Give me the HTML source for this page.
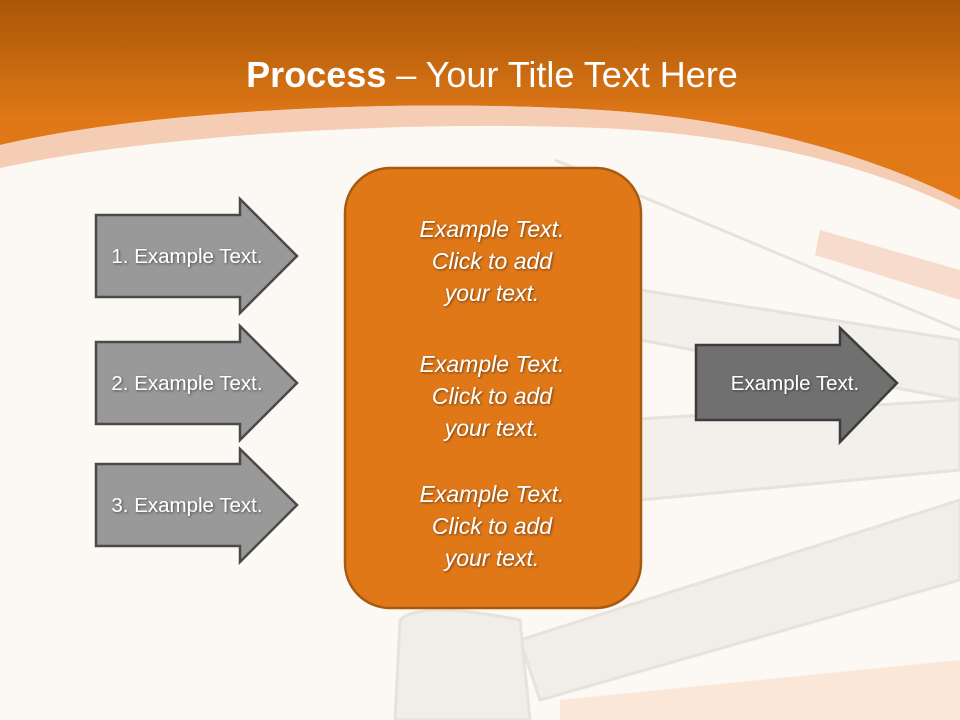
<!DOCTYPE html>
<html><head><style>
body{margin:0;width:960px;height:720px;overflow:hidden;background:#fcf8f4;font-family:"Liberation Sans",sans-serif}
svg{position:absolute;left:0;top:0}
</style></head><body>
<svg width="960" height="720" viewBox="0 0 960 720">
<defs>
<linearGradient id="g" x1="0" y1="0" x2="0" y2="1">
<stop offset="0" stop-color="#a85606"/><stop offset="0.6" stop-color="#e07818"/><stop offset="1" stop-color="#e47a18"/>
</linearGradient>
<filter id="s"><feDropShadow dx="1" dy="1" stdDeviation="1.2" flood-color="#000" flood-opacity="0.5"/></filter>
</defs>
<rect width="960" height="720" fill="#fcf8f4"/>
<g opacity="0.3" fill="none" stroke="#b8b0a8" stroke-width="3">
<path d="M555 160 L960 330"/>
<path d="M640 290 L960 340 L960 400 L640 340 Z" fill="#e0dcd8"/>
<path d="M620 420 L960 400 L960 470 L640 500 Z" fill="#e0dcd8"/>
<path d="M520 640 L960 500 L960 580 L540 700 Z" fill="#d8d4d0"/>
<path d="M400 620 Q420 600 520 620 L530 720 L395 720 Z" fill="#d8d4d0"/>
</g>
<path d="M820 230 L960 270 L960 300 L815 255 Z" fill="#f0b090" opacity="0.4"/>
<path d="M560 700 L960 660 L960 720 L560 720 Z" fill="#f5c8a0" opacity="0.35"/>
<path d="M0 0 H960 V200 C880 160 760 120 600 110 C400 98 150 110 0 145 Z" fill="url(#g)"/>
<path d="M0 145 C150 110 400 98 600 110 C760 120 880 160 960 200 V210 C880 170 760 135 600 128 C400 120 150 135 0 168 Z" fill="#f3c4a8" opacity="0.85"/>
<text x="492" y="87" text-anchor="middle" font-size="36" fill="#fff"><tspan font-weight="bold">Process</tspan> – Your Title Text Here</text>
<g fill="#999" stroke="#4a4a4a" stroke-width="2.5">
<path d="M96 215 H240 V199 L297 256 L240 313 V297 H96 Z"/>
<path d="M96 342 H240 V326 L297 383 L240 440 V424 H96 Z"/>
<path d="M96 464 H240 V449 L297 505 L240 562 V546 H96 Z"/>
</g>
<path d="M696 345 H840 V328 L897 383 L840 442 V420 H696 Z" fill="#707070" stroke="#3c3c3c" stroke-width="2.5"/>
<g font-size="20.5" fill="#fff" filter="url(#s)" text-anchor="middle">
<text x="187" y="263">1. Example Text.</text>
<text x="187" y="390">2. Example Text.</text>
<text x="187" y="512">3. Example Text.</text>
<text x="795" y="390">Example Text.</text>
</g>
<rect x="345" y="168" width="296" height="440" rx="45" fill="#e07818" stroke="#a85a10" stroke-width="2.5"/>
<g font-size="23" font-style="italic" fill="#fff" filter="url(#s)" text-anchor="middle">
<text x="492" y="237">Example Text.</text>
<text x="492" y="269">Click  to add</text>
<text x="492" y="301">your text.</text>
<text x="492" y="372">Example Text.</text>
<text x="492" y="404">Click  to add</text>
<text x="492" y="436">your text.</text>
<text x="492" y="502">Example Text.</text>
<text x="492" y="534">Click  to add</text>
<text x="492" y="566">your text.</text>
</g>
</svg>
</body></html>
